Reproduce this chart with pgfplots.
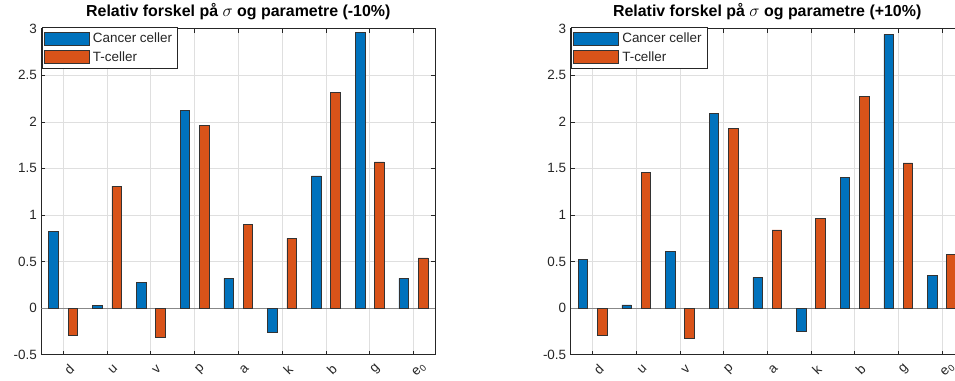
\documentclass[border=0pt]{standalone}
\usepackage{pgfplots}
\pgfplotsset{compat=1.18}
\usepackage{fontspec}
\setmainfont{Liberation Sans}
\definecolor{mblue}{RGB}{0,114,189}
\definecolor{morange}{RGB}{217,83,25}
\definecolor{maxis}{RGB}{38,38,38}
\definecolor{mgrid}{RGB}{223,223,223}
\pgfplotsset{
  matstyle/.style={
    scale only axis, height=326bp, anchor=south west,
    xmin=0.5, xmax=9.5, ymin=-0.5, ymax=3,
    xtick={1,2,3,4,5,6,7,8,9},
    xticklabels={d,u,v,p,a,k,b,g,e\textsubscript{0}},
    ytick={-0.5,0,0.5,1,1.5,2,2.5,3},
    yticklabels={-0.5,0,0.5,1,1.5,2,2.5,3},
    xmajorgrids, ymajorgrids,
    grid style={mgrid, line width=0.6bp},
    axis line style={maxis, line width=0.6bp},
    tick style={maxis, line width=0.6bp},
    tick align=inside, major tick length=4bp,
    tick label style={font=\fontsize{13.5}{15}\selectfont, text=maxis},
    xticklabel style={xshift=6bp, yshift=-15bp, rotate=45, anchor=center},
    yticklabel style={xshift=-1bp},
    title style={font=\fontsize{16}{18}\selectfont\bfseries, at={(0.5,1)}, anchor=base, yshift=6bp},
    legend style={at={(0,1)}, anchor=north west, xshift=0.5bp, yshift=1.2bp,
      draw=maxis, line width=0.6bp, fill=white, inner sep=1.8bp,
      font=\fontsize{13.5}{15}\selectfont,
      nodes={inner sep=3.5bp, text=maxis},
      /tikz/every even column/.append style={column sep=0bp}},
    legend cell align=left,
    legend image code/.code={\draw[#1] (0bp,-6.4bp) rectangle (45bp,6.4bp);},
  },
  bblue/.style={ybar, bar width=0.22, bar shift=-0.22, fill=mblue, draw=black!80, line width=0.5bp},
  borange/.style={ybar, bar width=0.22, bar shift=0.22, fill=morange, draw=black!80, line width=0.5bp},
}
\begin{document}
\begin{tikzpicture}
\begin{axis}[matstyle, width=394bp, at={(41.3bp,26.3bp)},
  title={Relativ forskel på $\sigma$ og parametre (-10\%)}]
\addplot[maxis!55, line width=0.6bp, forget plot] coordinates {(0.5,0) (9.5,0)};
\addplot[bblue] coordinates {(1,0.82) (2,0.03) (3,0.28) (4,2.12) (5,0.32) (6,-0.26) (7,1.42) (8,2.96) (9,0.32)};
\addplot[borange] coordinates {(1,-0.29) (2,1.31) (3,-0.31) (4,1.96) (5,0.90) (6,0.75) (7,2.32) (8,1.57) (9,0.54)};
\legend{Cancer celler, T-celler}
\end{axis}
\begin{axis}[matstyle, width=393bp, at={(570.7bp,26.3bp)},
  title={Relativ forskel på $\sigma$ og parametre (+10\%)}]
\addplot[maxis!55, line width=0.6bp, forget plot] coordinates {(0.5,0) (9.5,0)};
\addplot[bblue] coordinates {(1,0.52) (2,0.035) (3,0.61) (4,2.09) (5,0.33) (6,-0.25) (7,1.40) (8,2.94) (9,0.35)};
\addplot[borange] coordinates {(1,-0.29) (2,1.46) (3,-0.32) (4,1.93) (5,0.84) (6,0.96) (7,2.27) (8,1.56) (9,0.58)};
\legend{Cancer celler, T-celler}
\end{axis}
\pgfresetboundingbox
\path[use as bounding box] (0,0) rectangle (955bp,381bp);
\end{tikzpicture}
\end{document}
